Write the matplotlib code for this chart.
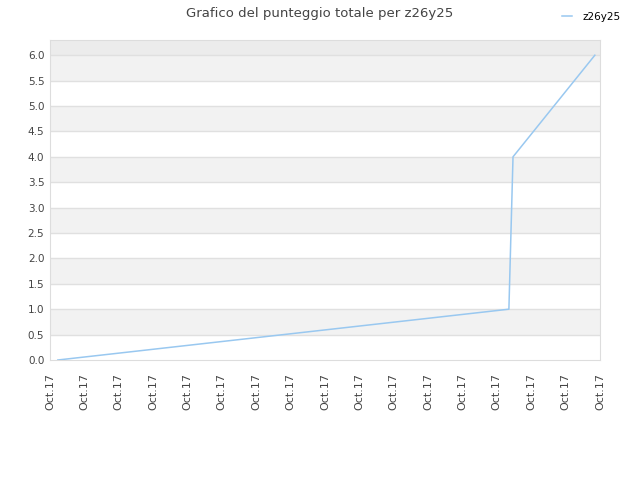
import matplotlib
matplotlib.use("Agg")
from matplotlib import pyplot as plt
import numpy as np

# punti della serie (posizione sull'asse temporale, punteggio)
tempi = [0.23, 13.35, 13.47, 15.85]
punteggi = [0.0, 1.0, 4.0, 6.0]
n_tick = 17
etichette = ["Oct.17"] * n_tick

fig = plt.figure(figsize=(6.4, 4.8), dpi=100)
ax = fig.add_axes([0.078, 0.25, 0.8595, 0.6667])

ymax = 6.3
for y in np.arange(0.5, 6.0, 1.0):
  ax.axhspan(y, y + 0.5, color='#f2f2f2', zorder=0, lw=0)
ax.axhspan(6.0, ymax, color='#ececec', zorder=0, lw=0)
for y in np.arange(0.5, 6.01, 0.5):
  ax.axhline(y, color='#e0e0e0', lw=1, zorder=1)

ax.plot(tempi, punteggi, color='#99c8f0', lw=1.1, label='z26y25', zorder=3)

ax.set_xlim(0, n_tick - 1)
ax.set_ylim(0, ymax)
ax.set_xticks(range(n_tick))
ax.set_xticklabels(etichette, rotation=90, fontsize=8, color='#444444')
ax.set_yticks(np.arange(0, 6.01, 0.5))
ax.set_yticklabels(["%.1f" % v for v in np.arange(0, 6.01, 0.5)], fontsize=7.5, color='#444444')
ax.tick_params(axis='x', length=0, pad=9)
ax.tick_params(axis='y', length=0, pad=4)
for s in ax.spines.values():
  s.set_color('#dddddd')

fig.suptitle("Grafico del punteggio totale per z26y25", fontsize=9.5, color='#444444', y=0.985)
fig.legend(loc='upper right', bbox_to_anchor=(0.985, 0.995), frameon=False, fontsize=7.5,
           handlelength=1.0, handletextpad=1.0, labelcolor='black')

fig.savefig("out.png", dpi=100)
